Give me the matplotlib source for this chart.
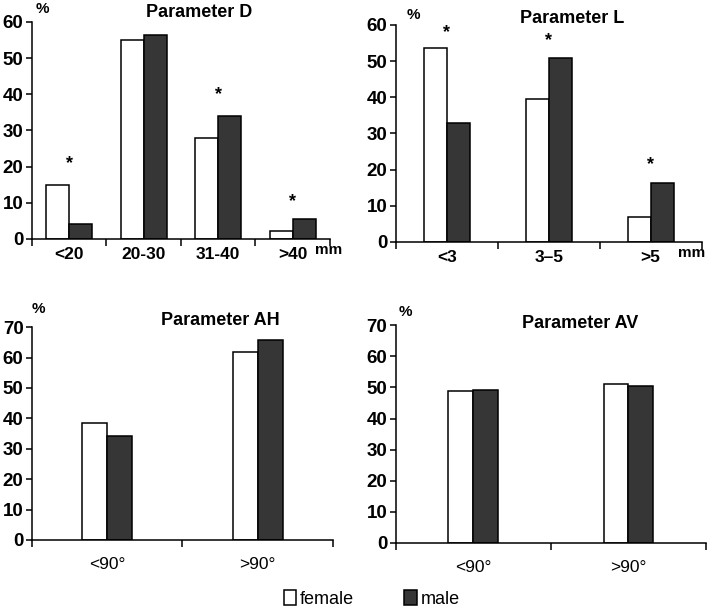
import numpy as np
import matplotlib.pyplot as plt

# data (percent)
d_cats = ['<20', '20-30', '31-40', '>40']
d_female = [15, 55, 28, 2.3]
d_male = [4.2, 56.3, 34, 5.5]
d_stars = [20.7, None, 40, 10.2]

l_cats = ['<3', '3–5', '>5']
l_female = [53.5, 39.5, 6.8]
l_male = [33, 50.8, 16.3]
l_stars = [58, 55.6, 21.3]

ah_cats = ['<90°', '>90°']
ah_female = [38.3, 61.7]
ah_male = [34.2, 65.8]

av_cats = ['<90°', '>90°']
av_female = [49, 51]
av_male = [49.3, 50.6]

MALE_COLOR = '#363636'


def panel(ax, cats, female, male, width, ymax, title, title_xy, pct_xy,
          stars=None, unit=None, unit_xy=None, xbold=True, xpad=6):
    x = np.arange(len(cats))
    bf = ax.bar(x - width / 2, female, width, color='white', edgecolor='black', linewidth=1.1)
    bm = ax.bar(x + width / 2, male, width, color=MALE_COLOR, edgecolor='black', linewidth=1.1)
    ax.set_xlim(-0.5, len(cats) - 0.5)
    ax.set_ylim(0, ymax)
    ax.set_yticks(np.arange(0, ymax + 1, 10))
    for lab in ax.get_yticklabels():
        lab.set_fontweight('bold')
    ax.tick_params(axis='y', labelsize=13.5, length=4, width=1.1, pad=2)
    # ticks at group borders, labels in the middle
    ax.set_xticks(np.arange(-0.5, len(cats)), labels=[])
    ax.set_xticks(x, labels=cats, minor=True)
    ax.tick_params(axis='x', which='major', length=5, width=1.1)
    ax.tick_params(axis='x', which='minor', length=0, labelsize=12.5, pad=xpad)
    for lab in ax.get_xticklabels(minor=True):
        lab.set_fontweight('bold' if xbold else 'normal')
    for s in ['top', 'right']:
        ax.spines[s].set_visible(False)
    ax.spines['left'].set_linewidth(1.1)
    ax.spines['bottom'].set_linewidth(1.1)
    ax.text(title_xy[0], title_xy[1], title, transform=ax.transAxes,
            ha='center', va='center', fontsize=13, fontweight='bold')
    ax.text(pct_xy[0], pct_xy[1], '%', transform=ax.transAxes,
            ha='center', va='center', fontsize=11, fontweight='bold')
    if unit:
        ax.text(unit_xy[0], unit_xy[1], unit, transform=ax.transAxes,
                ha='center', va='center', fontsize=11, fontweight='bold')
    if stars:
        for xi, s in zip(x, stars):
            if s is not None:
                ax.text(xi, s, '*', ha='center', va='center', fontsize=13, fontweight='bold')
    return bf, bm


def main():
    plt.rcParams['font.family'] = ['Liberation Sans', 'DejaVu Sans']
    fig = plt.figure(figsize=(7.08, 6.08), dpi=100)

    ax1 = fig.add_axes([0.045, 0.607, 0.421, 0.357])
    ax2 = fig.add_axes([0.559, 0.602, 0.432, 0.357])
    ax3 = fig.add_axes([0.045, 0.112, 0.425, 0.350])
    ax4 = fig.add_axes([0.559, 0.107, 0.438, 0.358])

    bf, bm = panel(ax1, d_cats, d_female, d_male, 0.31, 60, 'Parameter D', (0.56, 1.045),
                   (0.034, 1.06), stars=d_stars, unit='mm', unit_xy=(0.995, -0.05))
    panel(ax2, l_cats, l_female, l_male, 0.225, 60, 'Parameter L', (0.578, 1.03),
          (0.056, 1.046), stars=l_stars, unit='mm', unit_xy=(0.967, -0.05))
    panel(ax3, ah_cats, ah_female, ah_male, 0.166, 70, 'Parameter AH', (0.625, 1.03),
          (0.023, 1.085), xbold=False, xpad=12)
    panel(ax4, av_cats, av_female, av_male, 0.16, 70, 'Parameter AV', (0.594, 1.01),
          (0.03, 1.06), xbold=False, xpad=12)

    fig.legend([bf, bm], ['female', 'male'], loc='center', bbox_to_anchor=(0.525, 0.015),
               ncol=2, frameon=False, fontsize=13, handlelength=0.7, handleheight=0.9,
               handletextpad=0.2, columnspacing=2.8, borderpad=0)

    plt.savefig('out.png', dpi=100)


if __name__ == '__main__':
    main()
